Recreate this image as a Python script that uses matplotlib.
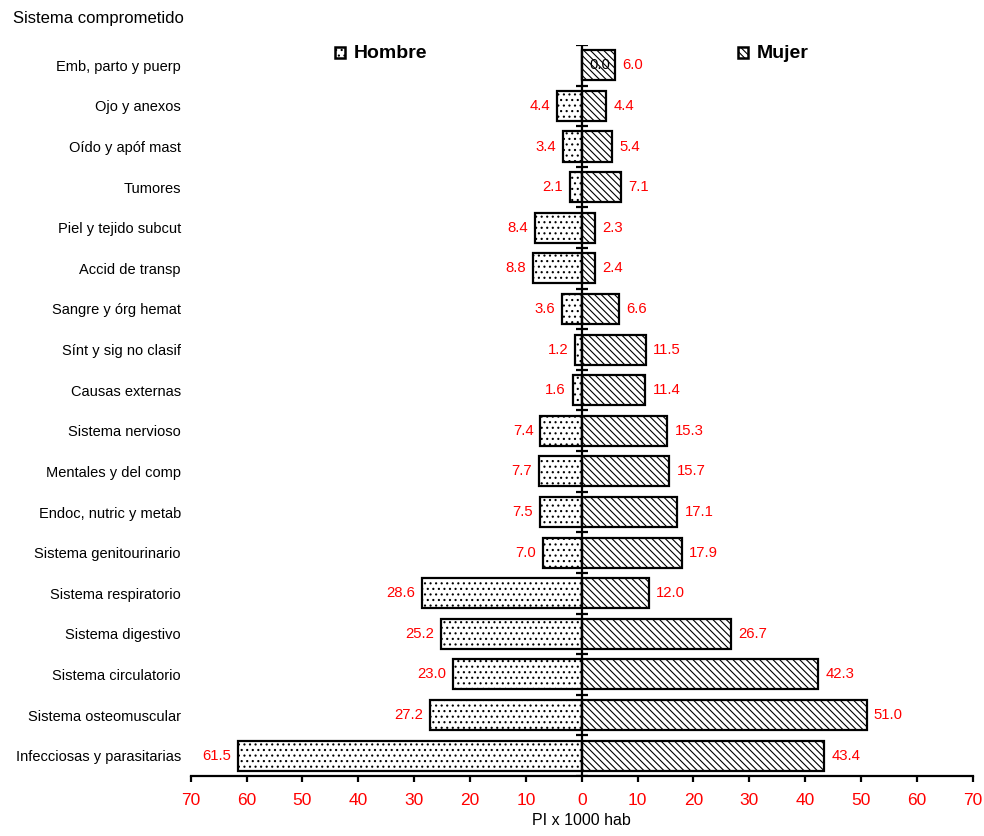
import numpy as np
import matplotlib.pyplot as plt
from matplotlib.patches import Rectangle

plt.rcParams['font.family'] = ['Liberation Sans', 'DejaVu Sans']
plt.rcParams['hatch.linewidth'] = 0.8

# categories listed from top to bottom
categorias = ['Emb, parto y puerp', 'Ojo y anexos', 'Oído y apóf mast', 'Tumores',
              'Piel y tejido subcut', 'Accid de transp', 'Sangre y órg hemat',
              'Sínt y sig no clasif', 'Causas externas', 'Sistema nervioso',
              'Mentales y del comp', 'Endoc, nutric y metab', 'Sistema genitourinario',
              'Sistema respiratorio', 'Sistema digestivo', 'Sistema circulatorio',
              'Sistema osteomuscular', 'Infecciosas y parasitarias']
hombre = [0.0, 4.4, 3.4, 2.1, 8.4, 8.8, 3.6, 1.2, 1.6, 7.4, 7.7, 7.5, 7.0,
          28.6, 25.2, 23.0, 27.2, 61.5]
mujer = [6.0, 4.4, 5.4, 7.1, 2.3, 2.4, 6.6, 11.5, 11.4, 15.3, 15.7, 17.1, 17.9,
         12.0, 26.7, 42.3, 51.0, 43.4]
ticks = [-70, -60, -50, -40, -30, -20, -10, 0, 10, 20, 30, 40, 50, 60, 70]

HATCH_H = '...'
HATCH_M = '\\' * 5

n = len(categorias)
y = np.arange(n)[::-1]
h = np.array(hombre)
m = np.array(mujer)

fig = plt.figure(figsize=(9.84, 8.36), dpi=100)
ax = fig.add_axes([0.1938, 0.0718, 0.7947, 0.8744])

ax.barh(y, -h, height=0.74, color='white', edgecolor='black', linewidth=1.6,
        hatch=HATCH_H)
ax.barh(y, m, height=0.74, color='white', edgecolor='black', linewidth=1.6,
        hatch=HATCH_M)

for yi, hv, mv in zip(y, h, m):
    if hv > 0:
        ax.text(-hv - 1.25, yi, f'{hv:.1f}', color='red', fontsize=10.7,
                ha='right', va='center')
    else:
        ax.text(3.3, yi, f'{hv:.1f}', color='black', fontsize=10.7,
                ha='center', va='center')
    ax.text(mv + 1.3, yi, f'{mv:.1f}', color='red', fontsize=10.7,
            ha='left', va='center')

# central axis with tick marks between categories
ax.plot([0, 0], [-0.5, n - 0.5], color='black', linewidth=1.6, zorder=5)
bordes = np.arange(n + 1) - 0.5
ax.plot(np.zeros(len(bordes)), bordes, linestyle='none', marker='_',
        markersize=8, markeredgewidth=1.6, color='black', zorder=5)

ax.set_xlim(-70, 70)
ax.set_ylim(-0.5, n - 0.5)
ax.set_xticks(ticks)
ax.set_xticklabels([str(abs(t)) for t in ticks], color='red', fontsize=12.5)
ax.tick_params(axis='x', length=4.5, width=1.6, pad=8)
ax.set_yticks(y)
ax.set_yticklabels(categorias, fontsize=10.5)
ax.tick_params(axis='y', length=0, pad=7)
for s in ['top', 'right', 'left']:
    ax.spines[s].set_visible(False)
ax.spines['bottom'].set_linewidth(1.6)
ax.set_xlabel('PI x 1000 hab', fontsize=11.5, labelpad=3)

# legend boxes
for x0, tx, hatch in [(-44.2, 'Hombre', HATCH_H), (27.9, 'Mujer', HATCH_M)]:
    ax.add_patch(Rectangle((x0, 17.17), 1.9, 0.28, facecolor='white',
                           edgecolor='black', linewidth=1.8, hatch=hatch,
                           clip_on=False))
    ax.text(x0 + 3.4, 17.29, tx, fontsize=14, fontweight='bold',
            ha='left', va='center')

fig.text(0.013, 0.978, 'Sistema comprometido', fontsize=12, ha='left', va='center')

fig.savefig('out.png', dpi=100)
